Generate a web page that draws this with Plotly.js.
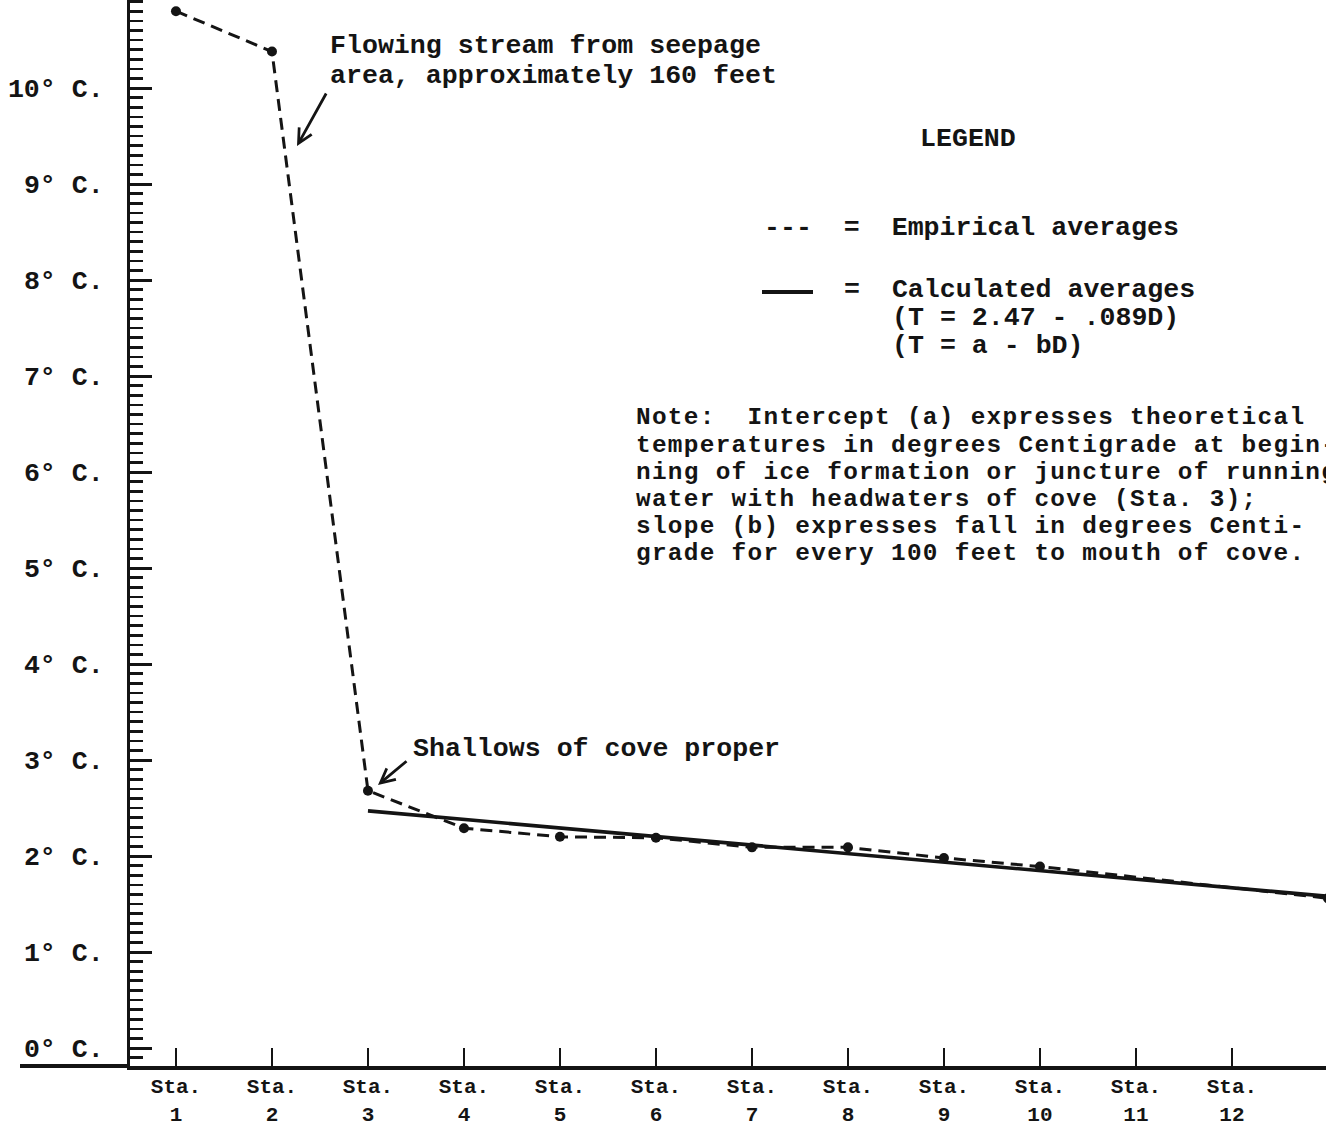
<!DOCTYPE html>
<html>
<head>
<meta charset="utf-8">
<script src="https://cdn.plot.ly/plotly-3.0.1.min.js"></script>
<style>
  html, body { margin: 0; padding: 0; background: #ffffff; }
  #chart { width: 1326px; height: 1132px; }
  /* typewriter pitch for the note paragraph */
  .note-line text { letter-spacing: 1.3px; }
</style>
</head>
<body>
<div id="chart"></div>
<script>
// Station numbers and average winter water temperatures (degrees C)
const empiricalStations = [1, 2, 3, 4, 5, 6, 7, 8, 9, 10, 13];
const empiricalTemps = [10.8, 10.38, 2.68, 2.29, 2.2, 2.19, 2.09, 2.09, 1.98, 1.89, 1.56];

// Calculated averages, T = 2.47 - .089D, at Sta. 3 (D = 0) and Sta. 13 (D = 10)
const calcStations = [3, 13];
const calcTemps = [2.47, 1.58];

// Axis ticks
const stationTicks = [1, 2, 3, 4, 5, 6, 7, 8, 9, 10, 11, 12, 13];
const stationLabels = stationTicks.map(n => 'Sta.<br>' + n);
const tempTicks = [0, 1, 2, 3, 4, 5, 6, 7, 8, 9, 10, 11];
const tempLabels = tempTicks.map(t => t + '°\u00A0C.');

// Note beside the legend
const noteLines = [
  'Note:\u00A0\u00A0Intercept (a) expresses theoretical',
  'temperatures in degrees Centigrade at begin-',
  'ning of ice formation or juncture of running',
  'water with headwaters of cove (Sta. 3);',
  'slope (b) expresses fall in degrees Centi-',
  'grade for every 100 feet to mouth of cove.'
];

const INK = '#141414';
const FONT = 'Liberation Mono, DejaVu Sans Mono, monospace';
const W = 1326, H = 1132;
const M = { l: 130, r: 0, t: 0, b: 66 };
const plotW = W - M.l - M.r, plotH = H - M.t - M.b;

// pixel position on the page -> paper coordinates
const X = px => (px - M.l) / plotW;
const Y = py => (M.t + plotH - py) / plotH;

const textFont = { family: FONT, size: 26.6, color: INK, weight: 'bold' };
const noteFont = { family: FONT, size: 24.4, color: INK, weight: 'bold' };

function label(text, px, py, opts) {
  return Object.assign({
    xref: 'paper', yref: 'paper', x: X(px), y: Y(py),
    xanchor: 'left', yanchor: 'middle', align: 'left', text: text,
    showarrow: false, font: textFont
  }, opts || {});
}

function arrow(tipX, tipY, tailX, tailY) {
  return {
    xref: 'paper', yref: 'paper', x: X(tipX), y: Y(tipY),
    ax: tailX - tipX, ay: tailY - tipY, text: '',
    showarrow: true, arrowhead: 5, arrowsize: 1, arrowwidth: 2.8,
    arrowcolor: INK, standoff: 0, startstandoff: 0
  };
}

const traces = [
  {
    x: empiricalStations, y: empiricalTemps, type: 'scatter', mode: 'lines+markers',
    name: 'Empirical averages',
    line: { color: INK, width: 3, dash: '12px,7px' },
    marker: { color: INK, size: 10 },
    showlegend: false, hoverinfo: 'skip'
  },
  {
    x: calcStations, y: calcTemps, type: 'scatter', mode: 'lines',
    name: 'Calculated averages',
    line: { color: INK, width: 3.6 },
    showlegend: false, hoverinfo: 'skip'
  }
];

const annotations = [
  label('Flowing stream from seepage', 328, 46),
  label('area, approximately 160 feet', 328, 76),
  arrow(297, 146, 327, 92),
  label('Shallows of cove proper', 411, 749),
  arrow(378, 785, 408, 760),
  label('LEGEND', 968, 139, { xanchor: 'center', align: 'center' }),
  label('---\u00A0\u00A0=\u00A0\u00A0Empirical averages', 762, 228),
  label('=\u00A0\u00A0Calculated averages', 842, 290),
  label('(T = 2.47 - .089D)', 890, 318),
  label('(T = a - bD)', 890, 346)
];
const firstNote = annotations.length;
noteLines.forEach((line, i) => annotations.push(label(line, 634, 418 + i * 27, { font: noteFont })));

const layout = {
  width: W, height: H,
  margin: { l: M.l, r: M.r, t: M.t, b: M.b, pad: 0 },
  paper_bgcolor: '#ffffff', plot_bgcolor: '#ffffff',
  showlegend: false,
  xaxis: {
    range: [0.521, 12.98],
    tickmode: 'array', tickvals: stationTicks, ticktext: stationLabels,
    ticks: 'inside', ticklen: 18, tickwidth: 2.6, tickcolor: INK,
    showline: true, linewidth: 4, linecolor: INK,
    showgrid: false, zeroline: false,
    tickfont: { family: FONT, size: 21, color: INK, weight: 'bold' },
    ticklabelstandoff: -2
  },
  yaxis: {
    range: [-0.1875, 10.917],
    tickmode: 'array', tickvals: tempTicks, ticktext: tempLabels,
    ticks: 'inside', ticklen: 22, tickwidth: 3, tickcolor: INK,
    minor: { tickmode: 'linear', tick0: 0, dtick: 0.1, ticks: 'inside', ticklen: 13, tickwidth: 2.6, tickcolor: INK, showgrid: false },
    showline: true, linewidth: 3, linecolor: INK,
    showgrid: false, zeroline: false,
    tickfont: { family: FONT, size: 26.6, color: INK, weight: 'bold' },
    ticklabelstandoff: 18
  },
  shapes: [
    // base line continues to the left of the temperature scale
    { type: 'line', xref: 'paper', yref: 'paper', x0: X(20), x1: 0, y0: 0, y1: 0,
      line: { color: INK, width: 4 } },
    // legend sample for the calculated line
    { type: 'line', xref: 'paper', yref: 'paper', x0: X(762), x1: X(813), y0: Y(292), y1: Y(292),
      line: { color: INK, width: 4 } }
  ],
  annotations: annotations
};

Plotly.newPlot('chart', traces, layout, { displayModeBar: false, staticPlot: true }).then(gd => {
  // tag the note paragraph so its letter spacing can follow the typewriter pitch
  gd.querySelectorAll('.annotation').forEach(node => {
    const idx = Number(node.getAttribute('data-index'));
    if (idx >= firstNote) node.classList.add('note-line');
  });
});
</script>
</body>
</html>
